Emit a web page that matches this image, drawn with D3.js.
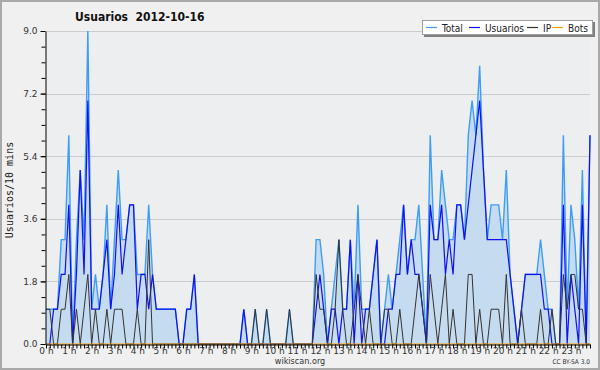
<!DOCTYPE html>
<html>
<head>
<meta charset="utf-8">
<script src="https://cdn.jsdelivr.net/npm/d3@7"></script>
<style>
  body { margin: 0; background: #f0f0f0; }
  svg { display: block; }
</style>
</head>
<body>
<div id="chart"></div>
<script>
// one value per 10 minutes, 0 h .. 23 h 50
let total = [
  1,1,1,1,3,3,6,0,3,5,3,9,
  1,2,1,2,4,1,3,5,3,3,4,4,
  2,2,2,4,2,1,1,1,1,1,1,0,
  0,1,1,2,0,0,0,0,0,0,0,0,
  0,0,0,0,1,0,0,1,0,0,1,0,
  0,0,0,0,1,0,0,0,0,0,0,3,
  3,2,0,1,2,3,1,1,3,1,4,1,
  1,1,2,3,0,1,2,1,2,3,4,2,
  3,3,4,2,0,6,3,3,5,4,3,3,
  4,4,3,6,7,6,8,5,3,4,4,4,
  3,5,2,1,0,1,2,2,2,2,3,2,
  1,1,0,0,6,1,4,3,1,5,0,6
];
let usuarios = [
  0,0,1,1,2,2,4,0,2,5,2,7,
  1,1,1,2,3,1,2,4,2,3,4,4,
  1,2,2,1,2,1,1,1,1,1,1,0,
  0,1,1,2,0,0,0,0,0,0,0,0,
  0,0,0,0,1,0,0,0,0,0,0,0,
  0,0,0,0,0,0,0,0,0,0,0,1,
  2,1,0,1,1,0,1,1,3,0,2,0,
  1,1,2,3,0,0,1,1,2,2,4,2,
  3,2,2,1,0,4,3,3,4,2,3,2,
  4,4,3,4,5,6,7,5,3,3,3,3,
  3,3,2,1,0,1,2,2,2,2,2,1,
  1,0,0,0,4,0,2,1,0,4,0,6
];
let ip = [
  1,1,0,0,1,1,2,0,1,0,1,2,
  0,1,0,0,1,0,1,1,1,0,0,0,
  1,0,0,3,0,0,0,0,0,0,0,0,
  0,0,0,0,0,0,0,0,0,0,0,0,
  0,0,0,0,0,0,0,1,0,0,1,0,
  0,0,0,0,1,0,0,0,0,0,0,2,
  1,1,0,0,1,3,1,0,0,1,2,1,
  0,1,0,0,0,1,1,0,0,1,0,0,
  0,1,2,1,0,2,1,0,1,2,0,1,
  0,0,0,2,2,0,1,0,0,1,1,1,
  0,2,0,0,0,1,0,0,0,0,1,0,
  0,1,0,0,2,1,2,2,1,1,0,0
];
let bots = [
  0,0,0,0,0,0,0,0,0,0,0,0,
  0,0,0,0,0,0,0,0,0,0,0,0,
  0,0,0,0,0,0,0,0,0,0,0,0,
  0,0,0,0,0,0,0,0,0,0,0,0,
  0,0,0,0,0,0,0,0,0,0,0,0,
  0,0,0,0,0,0,0,0,0,0,0,0,
  0,0,0,0,0,0,0,0,0,0,0,0,
  0,0,0,0,0,0,0,0,0,0,0,0,
  0,0,0,0,0,0,0,0,0,0,0,0,
  0,0,0,0,0,0,0,0,0,0,0,0,
  0,0,0,0,0,0,0,0,0,0,0,0,
  0,0,0,0,0,0,0,0,0,0,0,0
];
let yTicks = [0, 1.8, 3.6, 5.4, 7.2, 9.0];
let hourLabels = ["0 h","1 h","2 h","3 h","4 h","5 h","6 h","7 h","8 h","9 h","10 h","11 h",
                  "12 h","13 h","14 h","15 h","16 h","17 h","18 h","19 h","20 h","21 h","22 h","23 h"];

let series = [
  { name: "Total",    values: total,    color: "#3f9df5", width: 1.4 },
  { name: "Usuarios", values: usuarios, color: "#1010f0", width: 1.2 },
  { name: "IP",       values: ip,       color: "#333333", width: 1   },
  { name: "Bots",     values: bots,     color: "#ffa000", width: 1   }
];

let width = 600, height = 370;
let mLeft = 46, mRight = 590, mTop = 31, mBottom = 344;

let svg = d3.select('#chart').append('svg')
            .attr('width', width)
            .attr('height', height);

svg.append('rect')
   .attr('x', 1).attr('y', 1)
   .attr('width', width - 2).attr('height', height - 2)
   .attr('fill', '#f0f0f0')
   .attr('stroke', '#a9a9a9')
   .attr('stroke-width', 2);

let x = d3.scaleLinear().domain([0, total.length - 1]).range([mLeft, mRight]);
let y = d3.scaleLinear().domain([0, 9]).range([mBottom, mTop]);

svg.append('rect')
   .attr('x', mLeft).attr('y', mTop)
   .attr('width', mRight - mLeft).attr('height', mBottom - mTop)
   .attr('fill', '#eceef0');

// grid
svg.append('g')
   .selectAll('line')
   .data(yTicks.filter(d => d > 0))
   .join('line')
   .attr('x1', mLeft).attr('x2', mRight)
   .attr('y1', d => Math.round(y(d)) + 0.5)
   .attr('y2', d => Math.round(y(d)) + 0.5)
   .attr('stroke', '#cccccc');

// area under total
let area = d3.area()
             .x((d, i) => x(i))
             .y0(y(0))
             .y1(d => y(d));

svg.append('path')
   .datum(total)
   .attr('d', area)
   .attr('fill', '#c5dcf0');

let line = d3.line()
             .x((d, i) => x(i))
             .y(d => y(d));

series.forEach(s => {
    svg.append('path')
       .datum(s.values)
       .attr('d', line)
       .attr('fill', 'none')
       .attr('stroke', s.color)
       .attr('stroke-width', s.width);
});

// y axis
svg.append('g')
    .attr('transform', `translate(${mLeft - 0.5},0)`)
    .call(d3.axisLeft(y).tickValues(yTicks).tickFormat(d3.format('.1f')).tickSize(5).tickSizeOuter(0));
svg.append('g')
    .attr('transform', `translate(${mLeft - 0.5},0)`)
    .call(d3.axisLeft(y).tickValues(d3.range(0, 20).map(k => k * 0.45)).tickFormat('').tickSize(4).tickSizeOuter(0))
    .select('.domain').remove();

// x axis
svg.append('g')
    .attr('transform', `translate(0,${mBottom + 0.5})`)
    .call(d3.axisBottom(x).tickValues(d3.range(0, total.length)).tickFormat('').tickSize(4).tickSizeOuter(0));
svg.append('g')
    .attr('transform', `translate(0,${mBottom + 0.5})`)
    .call(d3.axisBottom(x).tickValues(d3.range(0, 24).map(h => h * 6)).tickFormat((d, i) => hourLabels[i]).tickSize(0).tickPadding(3))
    .select('.domain').remove();

svg.selectAll('.tick line, .domain').attr('stroke', '#000');
svg.selectAll('.tick text')
   .attr('font-family', '"DejaVu Sans", sans-serif')
   .attr('font-size', 9)
   .attr('fill', '#333');

// y title
svg.append('text')
   .attr('transform', 'translate(13,190) rotate(-90)')
   .attr('text-anchor', 'middle')
   .attr('font-family', '"DejaVu Sans Mono", monospace')
   .attr('font-size', 10)
   .attr('fill', '#222')
   .text('Usuarios/10 mins');

// title
svg.append('text')
   .attr('x', 75).attr('y', 21)
   .attr('font-family', '"DejaVu Sans Condensed", "DejaVu Sans", sans-serif')
   .attr('font-weight', 'bold')
   .attr('font-size', 12)
   .attr('fill', '#111')
   .style('white-space', 'pre')
   .text('Usuarios  2012-10-16');

// legend
let lg = svg.append('g');
lg.append('rect').attr('x', 424).attr('y', 22).attr('width', 171).attr('height', 15).attr('fill', '#808080');
lg.append('rect').attr('x', 422.5).attr('y', 20.5).attr('width', 170).attr('height', 14).attr('fill', '#fff').attr('stroke', '#a0a0a0');
let lx = [426, 469, 527, 552];
series.forEach((s, i) => {
    lg.append('line')
      .attr('x1', lx[i]).attr('x2', lx[i] + 11)
      .attr('y1', 27.5).attr('y2', 27.5)
      .attr('stroke', s.color).attr('stroke-width', 1.2);
    lg.append('text')
      .attr('x', lx[i] + 16).attr('y', 31.5)
      .attr('font-family', '"DejaVu Sans Condensed", "DejaVu Sans", sans-serif')
      .attr('font-size', 10)
      .attr('fill', '#222')
      .text(s.name);
});

// footer
svg.append('text')
   .attr('x', 300).attr('y', 364)
   .attr('text-anchor', 'middle')
   .attr('font-family', '"DejaVu Sans Condensed", "DejaVu Sans", sans-serif')
   .attr('font-size', 9)
   .attr('fill', '#333')
   .text('wikiscan.org');
svg.append('text')
   .attr('x', 590).attr('y', 364)
   .attr('text-anchor', 'end')
   .attr('font-family', '"DejaVu Sans Condensed", "DejaVu Sans", sans-serif')
   .attr('font-size', 6.5)
   .attr('fill', '#333')
   .text('CC BY-SA 3.0');
</script>
</body>
</html>
